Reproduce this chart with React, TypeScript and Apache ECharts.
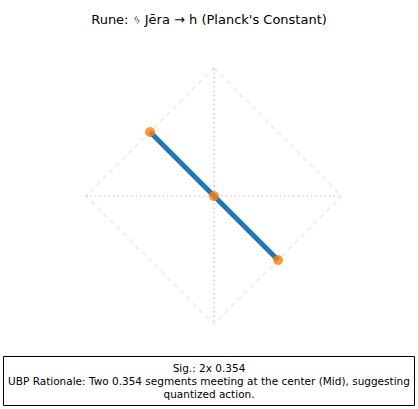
import { useEffect, useRef } from "react";
import * as echarts from "echarts";

const diamond = [[0, 1], [1, 0], [0, -1], [-1, 0], [0, 1]];
const vAxis = [[0, 1], [0, -1]];
const hAxis = [[-1, 0], [1, 0]];
const segment = [[-0.5, 0.5], [0, 0], [0.5, -0.5]];
const nodes = [[-0.5, 0.5], [0, 0], [0.5, -0.5]];
const titleText = "Rune: ᛃ Jēra → h (Planck's Constant)";
const noteLines = [
  "Sig.: 2x 0.354",
  "UBP Rationale: Two 0.354 segments meeting at the center (Mid), suggesting",
  "quantized action.",
];

const FONT = "DejaVu Sans, sans-serif";

export default function App() {
  const ref = useRef<HTMLDivElement>(null);

  useEffect(() => {
    if (!ref.current) return;
    const chart = echarts.init(ref.current, null, { renderer: "svg" });
    chart.setOption({
      animation: false,
      title: {
        text: titleText,
        left: "center",
        top: 8,
        textStyle: { fontFamily: FONT, fontSize: 13, fontWeight: "normal", color: "#000" },
      },
      grid: { left: 86, right: 76, top: 68, bottom: 85 },
      xAxis: { type: "value", min: -1, max: 1, show: false },
      yAxis: { type: "value", min: -1, max: 1, show: false },
      series: [
        {
          type: "line",
          data: diamond,
          symbol: "none",
          lineStyle: { color: "#e6e6e6", width: 1.2, type: [5, 4] },
        },
        {
          type: "line",
          data: vAxis,
          symbol: "none",
          lineStyle: { color: "#c0c0c0", width: 1.2, type: [1.5, 3] },
        },
        {
          type: "line",
          data: hAxis,
          symbol: "none",
          lineStyle: { color: "#c0c0c0", width: 1.2, type: [1.5, 3] },
        },
        {
          type: "line",
          data: segment,
          symbol: "none",
          lineStyle: { color: "#1f77b4", width: 5 },
        },
        {
          type: "scatter",
          data: nodes,
          symbolSize: 10,
          itemStyle: { color: "#ff7f0e" },
          z: 5,
        },
      ],
      graphic: [
        {
          type: "rect",
          shape: { x: 3.5, y: 356.5, width: 411, height: 49 },
          style: { fill: "#fff", stroke: "#000", lineWidth: 1 },
        },
        {
          type: "text",
          x: 209,
          y: 361,
          style: {
            text: noteLines.join("\n"),
            fontFamily: FONT,
            fontSize: 10.5,
            lineHeight: 13,
            fill: "#000",
            align: "center",
            verticalAlign: "top",
          },
        },
      ],
    });
    return () => chart.dispose();
  }, []);

  return (
    <div
      ref={ref}
      style={{ position: "fixed", left: 0, top: 0, width: 418, height: 409, background: "#fff" }}
    />
  );
}
